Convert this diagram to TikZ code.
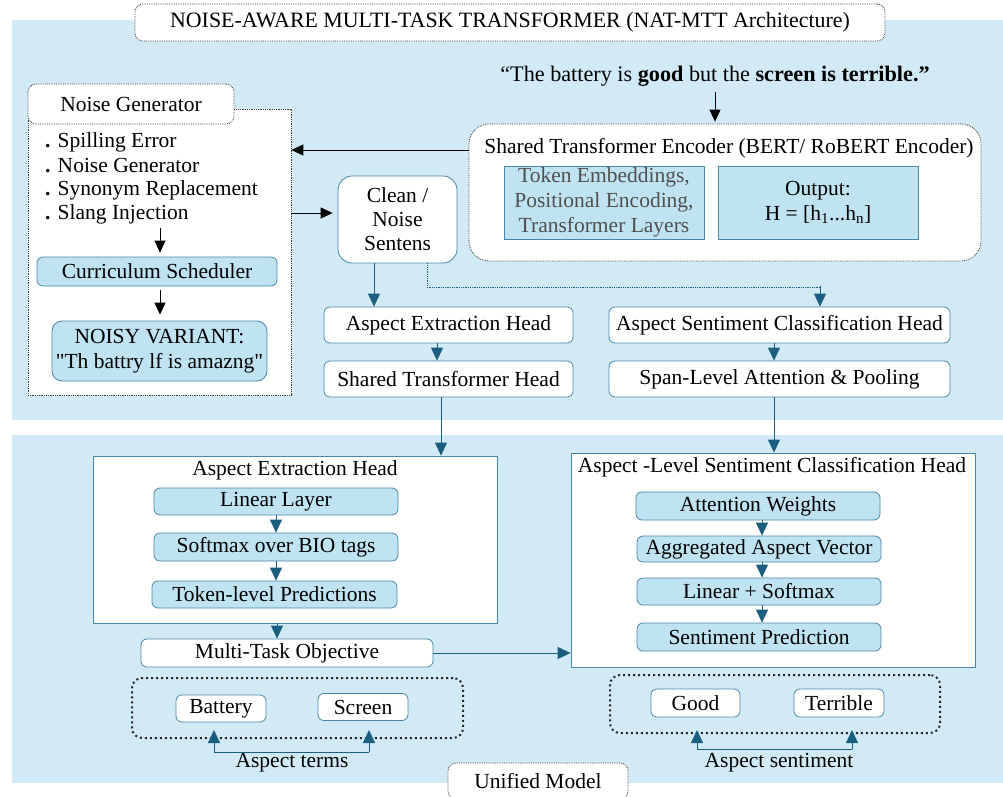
\documentclass[tikz,border=0pt]{standalone}
\usepackage{fontspec}
\setmainfont{Liberation Serif}[Ligatures=TeXOff]
\usetikzlibrary{arrows.meta}
\definecolor{bgblue}{RGB}{210,234,246}
\definecolor{boxblue}{RGB}{192,227,242}
\definecolor{edgeblue}{RGB}{74,134,168}
\definecolor{arrblue}{RGB}{26,94,128}
\definecolor{dotgray}{RGB}{60,60,60}
\definecolor{txtgray}{RGB}{80,80,80}
\begin{document}
\begin{tikzpicture}[x=1pt,y=-1pt,font=\fontsize{21.5}{25}\selectfont,
 dotbox/.style={draw=dotgray,densely dotted,rounded corners=8pt,fill=white,line width=0.8pt,inner sep=0pt},
 wbox/.style={draw=edgeblue,rounded corners=6pt,fill=white,line width=0.8pt,inner sep=0pt},
 bbox/.style={draw=edgeblue,rounded corners=6pt,fill=boxblue,line width=0.8pt,inner sep=0pt},
 sqbox/.style={draw=edgeblue,fill=white,line width=0.8pt,inner sep=0pt},
 sqbbox/.style={draw=edgeblue,fill=boxblue,line width=0.8pt,inner sep=0pt,align=center},
 thickdot/.style={draw=black!85,dash pattern=on 2pt off 3pt,line width=2pt,rounded corners=10pt,inner sep=0pt},
 barr/.style={-{Triangle[width=11pt,length=12pt]},black,line width=1pt},
 blarr/.style={-{Triangle[width=12pt,length=13pt]},arrblue,line width=1pt},
 lbl/.style={inner sep=0pt}
]
\useasboundingbox (0,0) rectangle (1003,797);
\fill[white] (0,0) rectangle (1003,797);
% panels
\fill[bgblue] (12,20) rectangle (1003,420);
\fill[bgblue] (12,435) rectangle (1003,783);

% title
\node[dotbox,minimum width=750pt,minimum height=37pt,font=\fontsize{21.9}{25}\selectfont] (title) at (510,22.5) {NOISE-AWARE MULTI-TASK TRANSFORMER (NAT-MTT Architecture)};

% quote
\node[lbl,font=\fontsize{22.2}{25}\selectfont] (quote) at (715,76) {“The battery is \textbf{good} but the \textbf{screen is terrible.”}};
\coordinate (qb) at (715,92);

% encoder
\node[dotbox,rounded corners=20pt,minimum width=512pt,minimum height=137pt] (enc) at (725,192.5) {};
\node[lbl] (enctitle) at (729,148) {Shared Transformer Encoder (BERT/ RoBERT Encoder)};
\node[sqbbox,minimum width=200pt,minimum height=73pt,text=txtgray] (tok) at (604,202.5) {Token Embeddings,\\Positional Encoding,\\Transformer Layers};
\node[sqbbox,minimum width=200pt,minimum height=73pt] (out) at (818,202.5) {Output:\\H = [h\textsubscript{1}...h\textsubscript{n}]};

% noise generator panel
\node[draw=dotgray,densely dotted,fill=white,line width=0.8pt,inner sep=0pt,minimum width=263pt,minimum height=286pt] (ngp) at (159.5,252) {};
\node[dotbox,minimum width=206pt,minimum height=40pt] (ngh) at (131,104) {Noise Generator};
\node[lbl,anchor=west] (i1) at (45,142) {\textbf{.} Spilling Error};
\node[lbl,anchor=west] (i2) at (45,166) {\textbf{.} Noise Generator};
\node[lbl,anchor=west] (i3) at (45,190) {\textbf{.} Synonym Replacement};
\node[lbl,anchor=west] (i4) at (45,214) {\textbf{.} Slang Injection};
\coordinate (i4b) at (160,228);
\node[bbox,minimum width=240pt,minimum height=29pt] (cur) at (157,271.5) {Curriculum Scheduler};
\node[bbox,rounded corners=10pt,minimum width=215pt,minimum height=60pt,align=center] (noisy) at (159.5,351) {NOISY VARIANT:\\"Th battry lf is amazng"};

% clean
\node[wbox,rounded corners=14pt,minimum width=119pt,minimum height=87pt,align=center,font=\fontsize{21.5}{24}\selectfont] (clean) at (397.5,219.5) {Clean /\\Noise\\Sentens};

% heads top
\node[wbox,minimum width=249pt,minimum height=36pt] (aeh1) at (448.5,325) {Aspect Extraction Head};
\node[wbox,minimum width=249pt,minimum height=36pt] (sth) at (448.5,379) {Shared Transformer Head};
\node[wbox,minimum width=341pt,minimum height=36pt] (asch) at (779.5,325) {Aspect Sentiment Classification Head};
\node[wbox,minimum width=341pt,minimum height=36pt] (span) at (779.5,379) {Span-Level Attention \& Pooling};

% bottom left
\node[sqbox,minimum width=404pt,minimum height=167pt] (aebig) at (295,539.5) {};
\node[lbl] (aetitle) at (295,470) {Aspect Extraction Head};
\node[bbox,minimum width=244pt,minimum height=27pt] (lin) at (276,501.5) {Linear Layer};
\node[bbox,minimum width=244pt,minimum height=28pt] (soft) at (276,547) {Softmax over BIO tags};
\node[bbox,minimum width=245pt,minimum height=27pt] (tokp) at (274.5,594.5) {Token-level Predictions};
\node[wbox,minimum width=292pt,minimum height=28pt] (mto) at (287,653) {Multi-Task Objective};
\node[thickdot,minimum width=331pt,minimum height=60pt] (dotl) at (297.5,708) {};
\node[wbox,minimum width=90pt,minimum height=27pt] (bat) at (221,708.5) {Battery};
\node[wbox,minimum width=90pt,minimum height=27pt] (scr) at (363,707) {Screen};
\node[lbl] (aterms) at (292,763) {Aspect terms};

% bottom right
\node[sqbox,minimum width=404pt,minimum height=214pt] (asbig) at (773,560) {};
\node[lbl] (astitle) at (772,467) {Aspect -Level Sentiment Classification Head};
\node[bbox,minimum width=244pt,minimum height=28pt] (att) at (758,506) {Attention Weights};
\node[bbox,minimum width=244pt,minimum height=26pt] (agg) at (759,549) {Aggregated Aspect Vector};
\node[bbox,minimum width=244pt,minimum height=27pt] (lsm) at (759,591.5) {Linear + Softmax};
\node[bbox,minimum width=244pt,minimum height=28pt] (spred) at (759,637) {Sentiment Prediction};
\node[thickdot,minimum width=330pt,minimum height=58pt] (dotr) at (775,704) {};
\node[wbox,minimum width=89pt,minimum height=28pt] (good) at (695.5,703) {Good};
\node[wbox,minimum width=90pt,minimum height=28pt] (terr) at (839,703) {Terrible};
\node[lbl] (asent) at (779,763) {Aspect sentiment};

% unified
\node[dotbox,minimum width=180pt,minimum height=36pt] (unified) at (538,781) {Unified Model};

% black arrows
\draw[barr] (qb) -- ([yshift=2pt]enc.north -| qb);
\draw[barr] (enc.west |- 0,150) -- (ngp.east |- 0,150);
\draw[barr] (ngp.east |- 0,213) -- ([xshift=-5pt]clean.west |- 0,213);
\draw[barr] (i4b) -- ([yshift=4pt]cur.north -| i4b);
\draw[barr] (cur.south -| i4b) ++(0,4) -- ([yshift=6pt]noisy.north -| i4b);

% blue arrows
\draw[blarr] (clean.south -| 374,0) -- (aeh1.north -| 374,0);
\draw[arrblue,densely dotted,line width=0.8pt] (clean.south -| 427,0) -- (427,287) -- (820,287);
\draw[blarr] (820,286) -- (asch.north -| 820,0);
\draw[blarr] (aeh1.south -| 437,0) -- (sth.north -| 437,0);
\draw[blarr] (asch.south -| 774,0) -- (span.north -| 774,0);
\draw[blarr] (sth.south -| 441,0) -- (aebig.north -| 441,0);
\draw[blarr] (span.south -| 774,0) -- (asbig.north -| 774,0);
\draw[blarr] (lin.south -| 276,0) -- (soft.north -| 276,0);
\draw[blarr] (soft.south -| 276,0) -- (tokp.north -| 276,0);
\draw[blarr] (aebig.south -| 277,0) -- (mto.north -| 277,0);
\draw[blarr] (mto.east) -- (asbig.west |- mto.east);
\draw[blarr] (att.south -| 762,0) -- (agg.north -| 762,0);
\draw[blarr] (agg.south -| 762,0) -- (lsm.north -| 762,0);
\draw[blarr] (lsm.south -| 762,0) -- (spred.north -| 762,0);
% brackets
\coordinate (bl1) at (214,752);
\coordinate (bl2) at (369,752);
\draw[arrblue,line width=1pt] (bl1) -- (bl2);
\draw[blarr] (bl1) -- ([yshift=9pt]dotl.south -| bl1);
\draw[blarr] (bl2) -- ([yshift=9pt]dotl.south -| bl2);
\coordinate (br1) at (697,749);
\coordinate (br2) at (852,749);
\draw[arrblue,line width=1pt] (br1) -- (br2);
\draw[blarr] (br1) -- ([yshift=4pt]dotr.south -| br1);
\draw[blarr] (br2) -- ([yshift=4pt]dotr.south -| br2);
\end{tikzpicture}
\end{document}
